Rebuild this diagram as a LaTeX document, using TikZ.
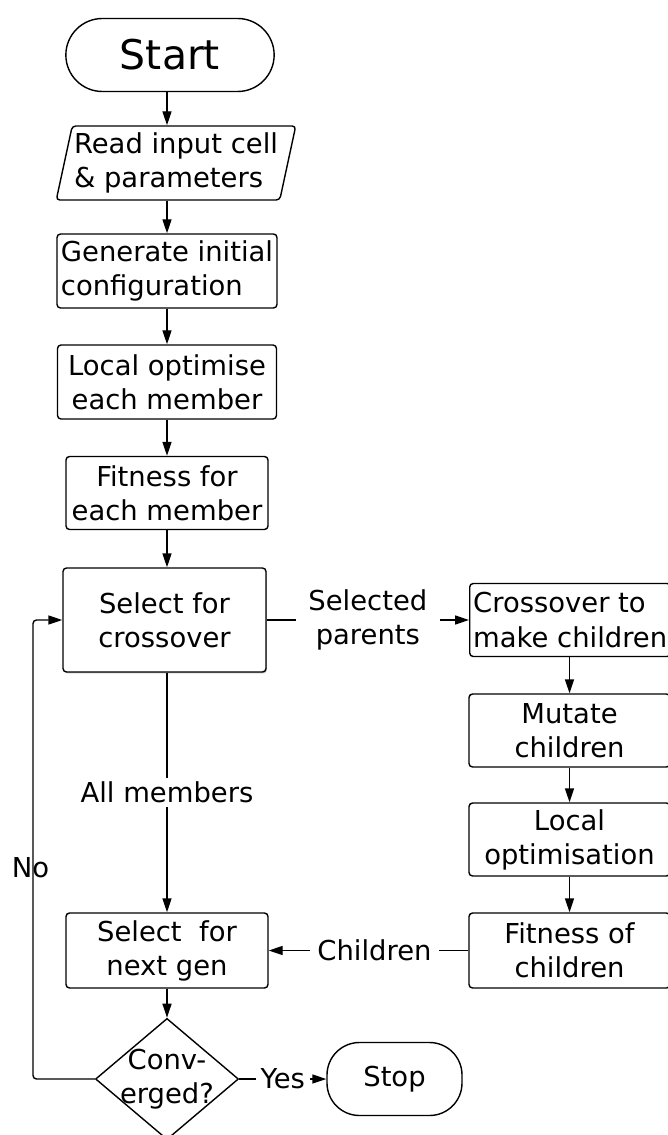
\documentclass[tikz,border=0pt]{standalone}
\usepackage{fontspec}
\setmainfont{DejaVu Sans}
\usepackage{tikz}
\usetikzlibrary{arrows.meta, shapes.geometric, shapes.misc, shadows}

\begin{document}
\begin{tikzpicture}[>={Triangle[length=2.8mm, width=1.8mm]}, line width=0.8pt,
  font=\fontsize{15.6}{19.4}\selectfont,
  box/.style={draw, rounded corners=2pt, minimum height=1.48cm, inner sep=1pt, align=center},
  term/.style={draw, rounded rectangle, minimum height=1.46cm},
  io/.style={draw, trapezium, trapezium left angle=76, trapezium right angle=104,
    trapezium stretches=true, rounded corners=2pt, minimum width=4.68cm,
    minimum height=1.48cm, inner sep=1pt, align=left},
  decision/.style={draw, diamond, aspect=1.18, inner sep=-1mm, align=center},
  lbl/.style={fill=white, inner ysep=2pt, align=center}]
  \useasboundingbox (0,0) rectangle (13.34,-22.7);

  % Main column
  \node[term, minimum width=4.4cm, font=\fontsize{23.3}{28}\selectfont] (start) at (3.40,-1.10) {Start};
  \node[io] (read) at (3.52,-3.26) {Read input cell\\\& parameters};
  \node[box, minimum width=4.4cm, align=left] (gen) at (3.34,-5.42) {Generate initial\\configuration};
  \node[box, minimum width=4.38cm] (local) at (3.34,-7.64) {Local optimise\\each member};
  \node[box, minimum width=4.04cm, minimum height=1.46cm] (fit) at (3.34,-9.86) {Fitness for\\each member};
  \node[box, minimum width=4.06cm, minimum height=2.08cm,
    drop shadow={shadow xshift=0.5pt, shadow yshift=-0.8pt, opacity=0.5}, fill=white] (selx) at (3.29,-12.40) {Select for\\crossover};
  \node[box, minimum width=4.04cm, minimum height=1.5cm] (selg) at (3.34,-19.01) {Select\ \ for\\next gen};
  \node[decision] (conv) at (3.34,-21.58) {Conv-\\erged?};
  \node[draw, rounded corners=0.65cm, minimum width=2.7cm, minimum height=1.46cm] (stop) at (7.89,-21.58) {Stop};

  % Children column
  \node[box, minimum width=4.02cm, minimum height=1.46cm, align=left, inner xsep=0.5pt, anchor=west] (cross) at (9.38,-12.40) {Crossover to\\make children};
  \node[box, minimum width=4.02cm, minimum height=1.46cm] (mut) at (11.39,-14.61) {Mutate\\children};
  \node[box, minimum width=4.02cm, minimum height=1.46cm] (lopt) at (11.39,-16.79) {Local\\optimisation};
  \node[box, minimum width=4.02cm, minimum height=1.5cm] (fitc) at (11.39,-19.01) {Fitness of\\children};

  \coordinate (lp) at (0.66,-17.36);

  % Flow
  \draw[->] (start.south -| gen) -- (read.north -| gen);
  \draw[->] (read.south -| gen) -- (gen);
  \draw[->] (gen) -- (local);
  \draw[->] (local) -- (fit);
  \draw[->] (fit) -- (selx.north -| fit);
  \draw[->] (selx.south -| selg) -- node[lbl]{All members} (selg);
  \draw[->] (selx) -- node[lbl, inner xsep=0.25cm]{Selected\\parents} (cross);
  \draw[->] (cross.south -| mut) -- (mut);
  \draw[->] (mut) -- (lopt);
  \draw[->] (lopt) -- (fitc);
  \draw[->] (fitc) -- node[lbl, inner xsep=0.15cm, pos=0.47]{Children} (selg);
  \draw[->] (selg) -- (conv);
  \draw[->] (conv) -- node[lbl, inner xsep=0.1cm]{Yes} (stop);
  \draw[->, rounded corners=2pt] (conv.west) -- (conv.west -| lp) |- node[pos=0.23, xshift=-0.05cm]{No} (selx.west);
\end{tikzpicture}
\end{document}
